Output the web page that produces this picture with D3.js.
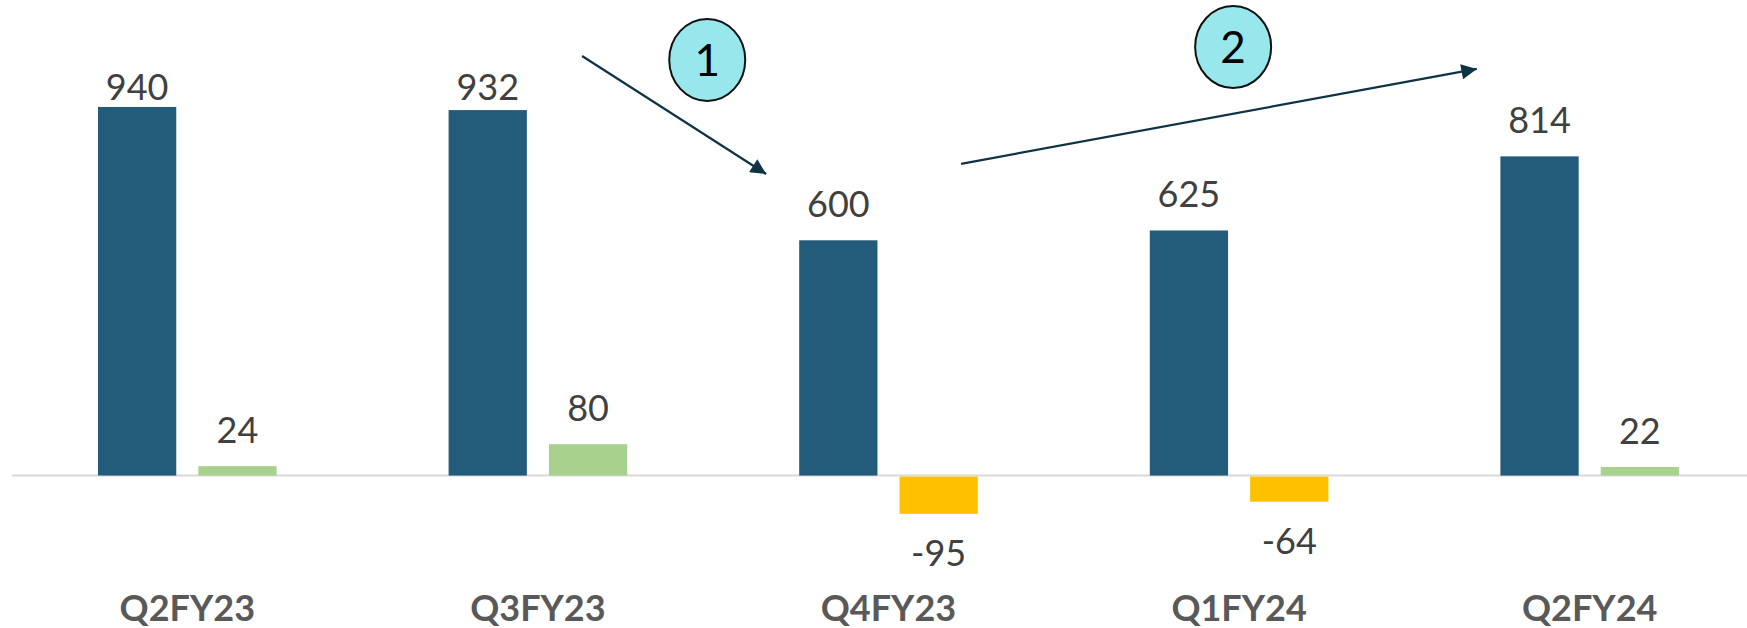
<!DOCTYPE html>
<html>
<head>
<meta charset="utf-8">
<script src="https://cdn.jsdelivr.net/npm/d3@7"></script>
<style>
  html, body { margin: 0; padding: 0; background: #fff; }
  svg { display: block; }
</style>
</head>
<body>
<div id="chart"></div>
<script>
// chart data
var quarters = ["Q2FY23", "Q3FY23", "Q4FY23", "Q1FY24", "Q2FY24"];
var mainValues = [940, 932, 600, 625, 814];
var deltaValues = [24, 80, -95, -64, 22];

// annotations in data space: x as category index, y as value
var badges = [
  { label: "1", xi: 1.483, v: 1060 },
  { label: "2", xi: 2.983, v: 1093 }
];
var arrows = [
  { x0: 1.126, v0: 1070, x1: 1.651, v1: 769 },
  { x0: 2.207, v0: 795, x1: 3.678, v1: 1037 }
];

var width = 1747, height = 628;
var colors = { main: "#235B7A", up: "#A9D18E", down: "#FFC000" };

var svg = d3.select("#chart").append("svg")
  .attr("width", width)
  .attr("height", height);

var x = d3.scaleBand()
  .domain(quarters)
  .range([12, 1765])
  .paddingInner(0)
  .paddingOuter(0);

var inner = d3.scaleBand()
  .domain(["main", "delta"])
  .range([86, x.bandwidth() - 86])
  .paddingInner(0.22);

// index -> pixel, for the annotations
var xi = d3.scaleLinear()
  .domain([0, quarters.length - 1])
  .range([x(quarters[0]) + x.bandwidth() / 2, x(quarters[quarters.length - 1]) + x.bandwidth() / 2]);

var y = d3.scaleLinear()
  .domain([-200, 1200])
  .range([554, 5]);

var rows = quarters.map(function(q, i) {
  return { q: q, main: mainValues[i], delta: deltaValues[i] };
});

// zero line
svg.append("line")
  .attr("x1", 12).attr("x2", width)
  .attr("y1", y(0)).attr("y2", y(0))
  .attr("stroke", "#D9D9D9")
  .attr("stroke-width", 2);

var g = svg.selectAll("g.cat")
  .data(rows)
  .enter().append("g")
  .attr("class", "cat")
  .attr("transform", function(d) { return "translate(" + x(d.q) + ",0)"; });

g.append("rect")
  .attr("x", inner("main"))
  .attr("width", inner.bandwidth())
  .attr("y", function(d) { return y(d.main); })
  .attr("height", function(d) { return y(0) - y(d.main); })
  .attr("fill", colors.main);

g.append("rect")
  .attr("x", inner("delta"))
  .attr("width", inner.bandwidth())
  .attr("y", function(d) { return d.delta >= 0 ? y(d.delta) : y(0) + 1; })
  .attr("height", function(d) { return Math.abs(y(0) - y(d.delta)); })
  .attr("fill", function(d) { return d.delta >= 0 ? colors.up : colors.down; });

var labelFont = "Lato, 'Open Sans', sans-serif";

g.append("text")
  .attr("x", inner("main") + inner.bandwidth() / 2)
  .attr("y", function(d) { return Math.max(y(d.main) - 23, 100); })
  .attr("text-anchor", "middle")
  .attr("font-family", labelFont)
  .attr("font-size", 36)
  .attr("fill", "#404040")
  .text(function(d) { return d.main; });

g.append("text")
  .attr("x", inner("delta") + inner.bandwidth() / 2)
  .attr("y", function(d) {
    return d.delta >= 0 ? y(d.delta) - 23 : y(d.delta) + 53;
  })
  .attr("text-anchor", "middle")
  .attr("font-family", labelFont)
  .attr("font-size", 36)
  .attr("fill", "#404040")
  .text(function(d) { return d.delta; });

// category labels
g.append("text")
  .attr("x", x.bandwidth() / 2)
  .attr("y", 621)
  .attr("text-anchor", "middle")
  .attr("font-family", labelFont)
  .attr("font-weight", "bold")
  .attr("font-size", 36)
  .attr("fill", "#595959")
  .text(function(d) { return d.q; });

// arrow annotations
svg.append("defs").append("marker")
  .attr("id", "head")
  .attr("viewBox", "0 0 10 10")
  .attr("refX", 10).attr("refY", 5)
  .attr("markerWidth", 8).attr("markerHeight", 7)
  .attr("markerUnits", "strokeWidth")
  .attr("orient", "auto")
  .append("path")
  .attr("d", "M0,0L10,5L0,10z")
  .attr("fill", "#0F3345");

svg.selectAll("line.arrow")
  .data(arrows)
  .enter().append("line")
  .attr("class", "arrow")
  .attr("x1", function(d) { return xi(d.x0); })
  .attr("y1", function(d) { return y(d.v0); })
  .attr("x2", function(d) { return xi(d.x1); })
  .attr("y2", function(d) { return y(d.v1); })
  .attr("stroke", "#0F3345")
  .attr("stroke-width", 2.2)
  .attr("marker-end", "url(#head)");

var b = svg.selectAll("g.badge")
  .data(badges)
  .enter().append("g")
  .attr("class", "badge")
  .attr("transform", function(d) { return "translate(" + xi(d.xi) + "," + y(d.v) + ")"; });

b.append("ellipse")
  .attr("rx", 38).attr("ry", 41)
  .attr("fill", "#97E7EC")
  .attr("stroke", "#111")
  .attr("stroke-width", 2);

b.append("text")
  .attr("y", 16)
  .attr("text-anchor", "middle")
  .attr("font-family", labelFont)
  .attr("font-size", 44)
  .attr("fill", "#000")
  .text(function(d) { return d.label; });
</script>
</body>
</html>
